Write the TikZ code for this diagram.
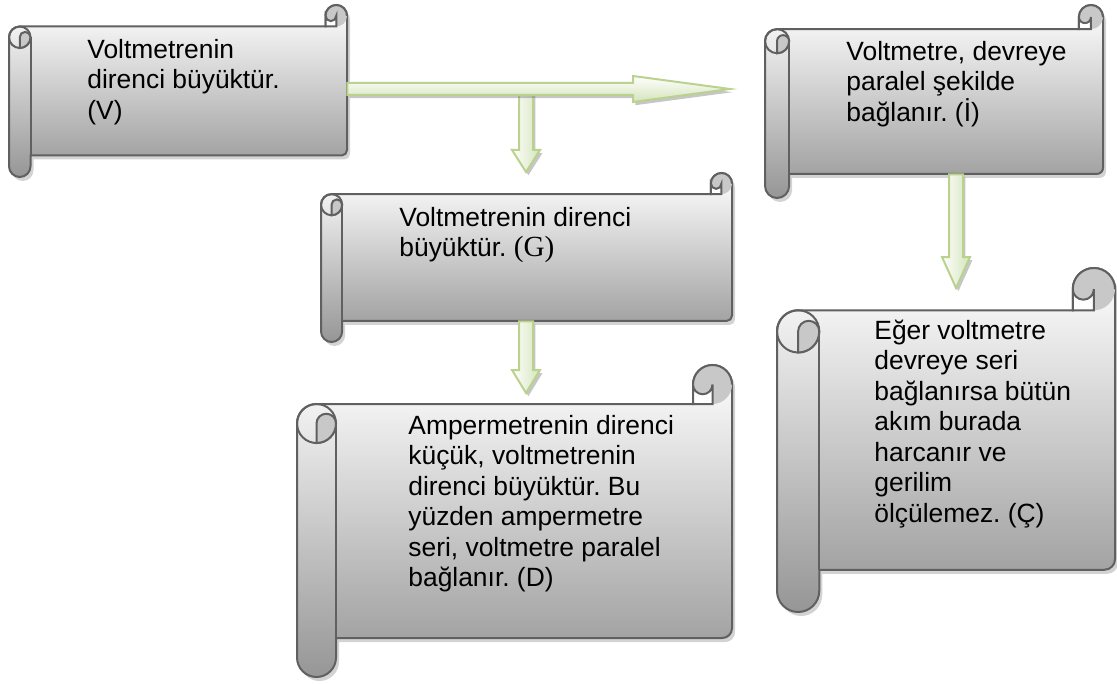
\documentclass[tikz,border=0pt]{standalone}
\usepackage{fontspec}
\setmainfont{Liberation Sans}
\newfontfamily\serifpart{Liberation Serif}
\usetikzlibrary{calc,fit,shadows}
\definecolor{scrollline}{RGB}{96,96,96}
\definecolor{scrollbot}{RGB}{150,150,150}
\definecolor{curlgrey}{RGB}{200,200,200}
\definecolor{arrowline}{RGB}{186,210,142}
\definecolor{arrowfill}{RGB}{212,228,186}
\newcommand\notefont{\fontsize{13.2pt}{15.25pt}\selectfont\frenchspacing}
\begin{document}
\begin{tikzpicture}
	[x=0.5pt, y=-0.5pt,
	sheet/.style={draw=scrollline, line width=1pt, top color=white,
		bottom color=scrollbot,
		drop shadow={shadow xshift=1.5pt, shadow yshift=-2pt, opacity=.35}},
	rim/.style={draw=scrollline, line width=1pt},
	curl/.style={rim, fill=curlgrey},
	pocket/.style={rim, fill=white},
	body/.style={inner sep=0pt},
	note/.style={anchor=north west, align=left, inner sep=0pt, font=\notefont,
		execute at begin node=\strut},
	fatarrow/.style={draw=arrowline, line width=1pt, line join=miter,
		drop shadow={shadow xshift=1.2pt, shadow yshift=-1.6pt, opacity=.45}},
	across/.style={fatarrow, top color=white, bottom color=arrowfill},
	downward/.style={fatarrow, left color=white, right color=arrowfill},
	fat right/.style={to path={
			($(\tikztostart)+(0,-6)$) -- ($(\tikztotarget)+(-#1,-6)$)
			-- ($(\tikztotarget)+(-#1,-13)$) -- (\tikztotarget)
			-- ($(\tikztotarget)+(-#1,13)$) -- ($(\tikztotarget)+(-#1,6)$)
			-- ($(\tikztostart)+(0,6)$) -- cycle}},
	fat down/.style={to path={
			($(\tikztostart)+(-7,0)$) -- ($(\tikztotarget)+(-7,-#1)$)
			-- ($(\tikztotarget)+(-14,-#1)$) -- (\tikztotarget)
			-- ($(\tikztotarget)+(14,-#1)$) -- ($(\tikztotarget)+(7,-#1)$)
			-- ($(\tikztostart)+(7,0)$) -- cycle}}]
	\useasboundingbox (0,0) rectangle (1117,684);

	% scrolls: left/top/right/bottom/name
	\foreach \xa/\ya/\xb/\yb/\nm in {9/5/347/177/v, 765/5/1103/198/i,
		321/173/732/342/g, 297/365/732/677/d, 777/268/1115/612/c}{
		\pgfmathsetmacro\ch{min(\xb-\xa,\yb-\ya)/8}
		\pgfmathsetmacro\hh{\ch/2}
		\pgfmathsetmacro\hq{\ch/4}
		\draw[sheet] (\xa,\ya+\ch+\hh) arc (180:270:\hh)
			-- (\xb-\ch,\ya+\ch) -- (\xb-\ch,\ya+\hh) arc (180:360:\hh)
			-- (\xb,\yb-\ch-\hq) arc (0:90:\hq)
			-- (\xa+\ch,\yb-\ch) -- (\xa+\ch,\yb-\hh) arc (0:180:\hh) -- cycle;
		% left roll
		\draw[rim] (\xa+\hh,\ya+\ch+\hh) circle[radius=\hh];
		\draw[curl] (\xa+\hh,\ya+2*\ch) -- (\xa+\hh,\ya+\ch+\hh)
			arc (180:360:\hq) arc (0:90:\hh) -- cycle;
		\draw[rim] (\xa+\ch,\ya+\ch+\hh) -- (\xa+\ch,\yb-\ch);
		% top right curl
		\fill[curlgrey] (\xb-\hh,\ya+\hh) circle[radius=\hh];
		\draw[rim] (\xb-\ch,\ya+\hh) arc (180:360:\hh);
		\draw[pocket] (\xb-\ch,\ya+\hh) -- (\xb-\ch,\ya+\ch)
			-- (\xb-\hh,\ya+\ch) -- (\xb-\hh,\ya+\hh) arc (0:180:\hq) -- cycle;
		\node[body, fit={(\xa+\hh,\ya+\ch) (\xb,\yb-\ch)}] (\nm) {};
	}

	% texts
	\node[note] (vtxt) at (87,38.6) {Voltmetrenin\\direnci büyüktür.\\(V)};
	\node[note] (itxt) at (846,40.6) {Voltmetre, devreye\\paralel şekilde\\bağlanır. (İ)};
	\node[note] (gtxt) at (399,206.6) {Voltmetrenin direnci\\büyüktür. {\serifpart\fontsize{14.6pt}{15.25pt}\selectfont(G)}};
	\node[note] (dtxt) at (408,414.6) {Ampermetrenin direnci\\küçük, voltmetrenin\\direnci büyüktür. Bu\\yüzden ampermetre\\seri, voltmetre paralel\\bağlanır. (D)};
	\node[note] (ctxt) at (874,319.6) {Eğer voltmetre\\devreye seri\\bağlanırsa bütün\\akım burada\\harcanır ve\\gerilim\\ölçülemez. (Ç)};

	% arrows
	\coordinate (hv) at (730,89);
	\coordinate (gv) at (526,172);
	\coordinate (dv) at (526,393);
	\coordinate (cv) at (956,288);
	\draw[downward] (gv |- hv) to[fat down=22] (gv);
	\draw[across] (v.east |- hv) to[fat right=97] (hv);
	\draw[downward] (g.south -| dv) to[fat down=23] (dv);
	\draw[downward] (i.south -| cv) to[fat down=31] (cv);
\end{tikzpicture}
\end{document}
